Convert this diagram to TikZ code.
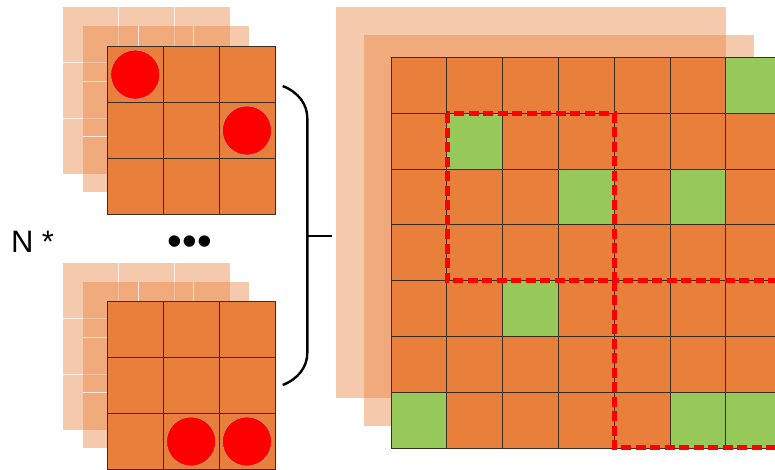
\documentclass[tikz,border=0pt]{standalone}
\usepackage{fontspec}
\setmainfont{Liberation Sans}
\definecolor{org}{RGB}{232,127,58}
\definecolor{grn}{RGB}{151,201,90}
\definecolor{gridln}{RGB}{60,45,35}
\definecolor{ballrim}{RGB}{200,140,130}
\tikzset{
  layer/.style={fill=org, fill opacity=0.42, draw=none},
  layerline/.style={draw=white, line width=0.8pt, opacity=0.75},
  cellbox/.style={fill=org, draw=gridln, line width=0.7pt},
  greencell/.style={fill=grn, draw=gridln, line width=0.7pt},
  redball/.style={circle, fill=red, draw=ballrim, line width=0.6pt, minimum size=49pt, inner sep=0pt},
  window/.style={draw=red, line width=5pt, dash pattern=on 10pt off 4.5pt},
  bracket/.style={draw=black, line width=2.4pt},
  label/.style={inner sep=0pt, font=\fontsize{31}{32}\selectfont},
}
\newcommand{\smalllayer}[2]{%
  \fill[layer] (#1,#2) rectangle ++(166.7,166.7);
  \foreach \k in {1,2}{
    \draw[layerline] ({#1+\k*55.57},#2) -- ++(0,166.7);
    \draw[layerline] (#1,{#2+\k*55.57}) -- ++(166.7,0);
  }%
}
\newcommand{\smallfront}[2]{%
  \foreach \i in {0,1,2}{
    \foreach \j in {0,1,2}{
      \draw[cellbox] ({#1+\i*55.9},{#2+\j*55.9}) rectangle ++(55.9,55.9);
    }
  }%
}
\begin{document}
\begin{tikzpicture}[x=1pt,y=-1pt]
\useasboundingbox (0,0) rectangle (775,469);
\clip (0,0) rectangle (775,469);

% ---- top small stack ----
\smalllayer{63.3}{7.3}
\smalllayer{82.7}{25.7}
\smallfront{107.3}{46.7}
\node[redball] (b1) at (135.3,74.6) {};
\node[redball] (b2) at (247.0,130.5) {};

% ---- bottom small stack ----
\smalllayer{63.3}{263.3}
\smalllayer{82.7}{281.7}
\smallfront{107.3}{301.7}
\node[redball] (b3) at (191.1,441.5) {};
\node[redball] (b4) at (247.0,441.5) {};

% ---- big stack ----
\fill[layer] (336,7.3) rectangle (726,397.7);
\fill[layer] (364,35) rectangle (754,425.7);
\foreach \i in {0,...,6}{
  \foreach \j in {0,...,6}{
    \draw[cellbox] ({391+\i*55.8},{57.3+\j*55.8}) rectangle ++(55.8,55.8);
  }
}
\foreach \r/\c in {0/6,1/1,2/3,2/5,4/2,6/0,6/5,6/6}{
  \draw[greencell] ({391+\c*55.8},{57.3+\r*55.8}) rectangle ++(55.8,55.8);
}
\draw[window] (447.0,113.1) rectangle (614.3,280.7);
\draw[window] (614.3,280.7) rectangle (790,447.9);

% ---- bracket ----
\coordinate (btop) at (282.7,86);
\coordinate (bbot) at (282.7,385);
\coordinate (bmid) at (307.3,235.7);
\coordinate (btip) at (331.7,235.7);
\draw[bracket] (btop) .. controls (298,92) and (307.3,104) .. (307.3,118) -- (307.3,353) .. controls (307.3,367) and (298,379) .. (bbot);
\draw[bracket] (bmid) -- (btip);

% ---- texts ----
\node[label, anchor=base west] (nstar) at (10.8,252) {N *};
\node[inner sep=0pt, anchor=base, font=\fontsize{42}{42}\selectfont] (dots) at (190,255) {•••};
\end{tikzpicture}
\end{document}
